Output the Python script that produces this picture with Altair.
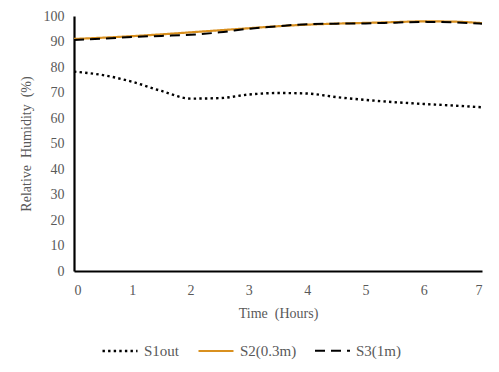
import altair as alt
import pandas as pd

hours = [0, 0.5, 1, 1.5, 2, 2.5, 3, 3.5, 4, 4.5, 5, 5.5, 6, 6.5, 7]
s1out = [78.2, 76.8, 74.2, 70.6, 67.6, 67.8, 69.2, 69.8, 69.6, 68.2, 67.1, 66.2, 65.5, 64.9, 64.2]
s2 = [91.0, 91.5, 92.1, 92.8, 93.6, 94.4, 95.2, 96.0, 96.6, 97.0, 97.3, 97.6, 97.9, 97.8, 97.2]
s3 = [90.6, 91.1, 91.8, 92.2, 92.6, 93.6, 95.0, 96.0, 96.8, 97.0, 97.1, 97.4, 97.7, 97.5, 97.0]
series = ["S1out", "S2(0.3m)", "S3(1m)"]
colors = ["#000000", "#D9901F", "#000000"]
dashes = [[2.4, 3.2], [1, 0], [10, 6]]
widths = [2.4, 2.0, 3.6]

rows = []
for name, vals in zip(series, [s1out, s2, s3]):
    for h, v in zip(hours, vals):
        rows.append({"Time": h, "RH": v, "Series": name})
df = pd.DataFrame(rows)

leg = alt.Legend(
    title=None, orient="none", direction="horizontal", legendX=27, legendY=316,
    symbolType="stroke", symbolSize=1225, symbolStrokeWidth=3,
    labelFont="Liberation Serif", labelFontSize=15, labelColor="#595959",
    columnPadding=14, labelOffset=5,
)

chart = alt.Chart(df).mark_line(interpolate="monotone").encode(
    x=alt.X("Time:Q", scale=alt.Scale(domain=[0, 7], nice=False),
            axis=alt.Axis(title="Time\u00a0 (Hours)", values=list(range(8)), format="d",
                          grid=False, ticks=False, domainColor="#000000", domainWidth=2.2,
                          labelPadding=12, titlePadding=9)),
    y=alt.Y("RH:Q", scale=alt.Scale(domain=[0, 100], nice=False),
            axis=alt.Axis(title="Relative\u00a0 Humidity\u00a0 (%)", values=list(range(0, 101, 10)),
                          grid=False, ticks=False, domainColor="#000000", domainWidth=2.2,
                          labelPadding=10, titlePadding=10)),
    color=alt.Color("Series:N", scale=alt.Scale(domain=series, range=colors), legend=leg),
    strokeDash=alt.StrokeDash("Series:N", scale=alt.Scale(domain=series, range=dashes), legend=leg),
    strokeWidth=alt.StrokeWidth("Series:N", scale=alt.Scale(domain=series, range=widths), legend=None),
).properties(
    width=408, height=255,
    autosize=alt.AutoSizeParams(type="none"),
    padding={"left": 66, "top": 8, "right": 9, "bottom": 93},
    background="white",
).configure(
    font="Liberation Serif",
).configure_axis(
    labelFont="Liberation Serif", labelFontSize=14, labelColor="#595959",
    titleFont="Liberation Serif", titleFontSize=14, titleColor="#595959", titleFontWeight="normal",
).configure_legend(
    labelFont="Liberation Serif",
).configure_view(stroke=None)

chart.save("out.html", embed_options={"renderer": "svg", "actions": False})
